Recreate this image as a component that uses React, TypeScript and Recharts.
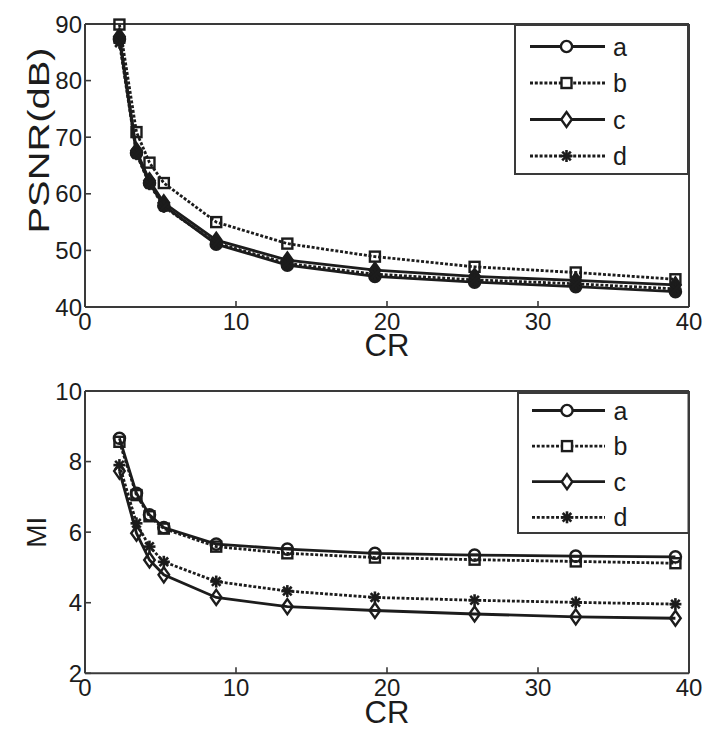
import React from 'react';
import { LineChart, Line, XAxis, YAxis, Legend, Label } from 'recharts';

// ---------- data ----------
const crValues = [2.28, 3.41, 4.27, 5.22, 8.69, 13.4, 19.2, 25.8, 32.5, 39.1];

const psnrA = [87.3, 67.2, 61.9, 57.9, 51.1, 47.4, 45.4, 44.4, 43.6, 42.7];
const psnrB = [89.9, 70.9, 65.5, 61.9, 55.0, 51.2, 48.9, 47.1, 46.1, 44.9];
const psnrC = [87.8, 67.6, 62.3, 58.4, 51.8, 48.3, 46.5, 45.4, 44.7, 43.9];
const psnrD = [86.7, 67.0, 61.7, 57.7, 51.3, 47.7, 45.8, 44.8, 44.1, 43.2];

const miA = [8.66, 7.1, 6.49, 6.13, 5.66, 5.52, 5.4, 5.35, 5.32, 5.3];
const miB = [8.56, 7.05, 6.45, 6.1, 5.59, 5.4, 5.28, 5.22, 5.17, 5.12];
const miC = [7.73, 5.97, 5.21, 4.79, 4.15, 3.89, 3.78, 3.68, 3.6, 3.56];
const miD = [7.9, 6.25, 5.59, 5.16, 4.6, 4.33, 4.15, 4.07, 4.01, 3.96];

const seriesNames = ['a', 'b', 'c', 'd'];
const xTicks = [0, 10, 20, 30, 40];
const psnrTicks = [40, 50, 60, 70, 80, 90];
const miTicks = [2, 4, 6, 8, 10];

const psnrData = crValues.map((cr, i) => ({ cr, a: psnrA[i], b: psnrB[i], c: psnrC[i], d: psnrD[i] }));
const miData = crValues.map((cr, i) => ({ cr, a: miA[i], b: miB[i], c: miC[i], d: miD[i] }));

// ---------- styles ----------
const INK = '#1c1c1c';
const AXIS = '#3a3a3a';
const FONT = '"Liberation Sans", Arial, Helvetica, sans-serif';
const DASH = '3 1.8';
const LW = 2.8;

const STYLE: Record<string, { shape: string; dash?: string }> = {
  a: { shape: 'circle' },
  b: { shape: 'square', dash: DASH },
  c: { shape: 'diamond' },
  d: { shape: 'star', dash: DASH },
};

function Marker({ cx, cy, shape, fill }: any) {
  if (cx == null || cy == null) return null;
  const sw = 2.4;
  switch (shape) {
    case 'circle':
      return <circle cx={cx} cy={cy} r={5.6} fill={fill} stroke={INK} strokeWidth={sw} />;
    case 'square':
      return <rect x={cx - 5} y={cy - 5} width={10} height={10} fill={fill} stroke={INK} strokeWidth={sw} />;
    case 'diamond':
      return (
        <polygon
          points={`${cx},${cy - 7.5} ${cx + 5.3},${cy} ${cx},${cy + 7.5} ${cx - 5.3},${cy}`}
          fill={fill}
          stroke={INK}
          strokeWidth={sw}
        />
      );
    default:
      return (
        <g stroke={INK} strokeWidth={2.6}>
          <line x1={cx - 6} y1={cy} x2={cx + 6} y2={cy} />
          <line x1={cx} y1={cy - 6} x2={cx} y2={cy + 6} />
          <line x1={cx - 4.3} y1={cy - 4.3} x2={cx + 4.3} y2={cy + 4.3} />
          <line x1={cx - 4.3} y1={cy + 4.3} x2={cx + 4.3} y2={cy - 4.3} />
        </g>
      );
  }
}

// ---------- ticks ----------
const tickText = { fontFamily: FONT, fontSize: 24, fill: INK } as const;

const BottomTick = (p: any) => (
  <g>
    <line x1={p.x} x2={p.x} y1={p.y} y2={p.y - 6} stroke={AXIS} strokeWidth={1.6} />
    <text x={p.x} y={p.y + 23} textAnchor="middle" {...tickText}>
      {p.payload.value}
    </text>
  </g>
);
const TopTick = (p: any) => (
  <line x1={p.x} x2={p.x} y1={p.y} y2={p.y + 6} stroke={AXIS} strokeWidth={1.6} />
);
const LeftTick = (p: any) => (
  <g>
    <line x1={p.x} x2={p.x + 6} y1={p.y} y2={p.y} stroke={AXIS} strokeWidth={1.6} />
    <text x={p.x - 3} y={p.y} dy="0.36em" textAnchor="end" {...tickText}>
      {p.payload.value}
    </text>
  </g>
);
const RightTick = (p: any) => (
  <line x1={p.x} x2={p.x - 6} y1={p.y} y2={p.y} stroke={AXIS} strokeWidth={1.6} />
);

// ---------- legend ----------
function LegendBox({ payload, w, h, y0, step, lx1, lx2, mx, tx }: any) {
  return (
    <svg width={w} height={h} style={{ display: 'block' }}>
      <rect x={1} y={1} width={w - 2} height={h - 2} fill="#fff" stroke={AXIS} strokeWidth={2} />
      {(payload || []).map((entry: any, i: number) => {
        const key = String(entry.dataKey);
        const st = STYLE[key];
        const y = y0 + i * step;
        return (
          <g key={key}>
            <line x1={lx1} x2={lx2} y1={y} y2={y} stroke={INK} strokeWidth={LW} strokeDasharray={st.dash} />
            <Marker cx={mx} cy={y} shape={st.shape} fill="#fff" />
            <text x={tx} y={y} dy="0.36em" fontFamily={FONT} fontSize={25} fill={INK}>
              {entry.value}
            </text>
          </g>
        );
      })}
    </svg>
  );
}

// ---------- panel ----------
function Panel({ data, height, margin, yDomain, yTicks, yLabel, legend, filledTop, crOffset }: any) {
  return (
    <LineChart width={723} height={height} data={data} margin={margin}>
      <XAxis
        dataKey="cr"
        type="number"
        domain={[0, 40]}
        ticks={xTicks}
        interval={0}
        height={1}
        tickSize={0}
        tickMargin={0}
        tickLine={false}
        axisLine={{ stroke: AXIS, strokeWidth: 2 }}
        tick={BottomTick}
      >
        <Label value="CR" position="bottom" offset={crOffset} fontSize={31} fontFamily={FONT} fill={INK} />
      </XAxis>
      <XAxis
        xAxisId="top"
        orientation="top"
        type="number"
        domain={[0, 40]}
        ticks={xTicks}
        interval={0}
        height={1}
        tickSize={0}
        tickMargin={0}
        tickLine={false}
        axisLine={{ stroke: AXIS, strokeWidth: 2 }}
        tick={TopTick}
      />
      <YAxis
        type="number"
        domain={yDomain}
        ticks={yTicks}
        interval={0}
        width={1}
        tickSize={0}
        tickMargin={0}
        tickLine={false}
        axisLine={{ stroke: AXIS, strokeWidth: 2 }}
        tick={LeftTick}
      >
        <Label
          content={(props: any) => {
            const vb = props.viewBox || {};
            const cx = vb.x + vb.width - yLabel.dx;
            const cy = vb.y + vb.height / 2 + yLabel.dy;
            return (
              <text
                x={cx}
                y={cy}
                transform={`rotate(-90 ${cx} ${cy})`}
                textAnchor="middle"
                dominantBaseline="central"
                fontFamily={FONT}
                fontSize={yLabel.size}
                fill={INK}
                textLength={yLabel.len}
                lengthAdjust={yLabel.len ? 'spacingAndGlyphs' : undefined}
              >
                {yLabel.text}
              </text>
            );
          }}
        />
      </YAxis>
      <YAxis
        yAxisId="right"
        orientation="right"
        type="number"
        domain={yDomain}
        ticks={yTicks}
        interval={0}
        width={1}
        tickSize={0}
        tickMargin={0}
        tickLine={false}
        axisLine={{ stroke: AXIS, strokeWidth: 2 }}
        tick={RightTick}
      />
      <Legend
        layout="vertical"
        align="center"
        verticalAlign="middle"
        wrapperStyle={{ position: 'absolute', left: legend.left, top: legend.top, width: legend.w, height: legend.h }}
        content={(props: any) => <LegendBox payload={props.payload} {...legend} />}
      />
      {seriesNames.map((k) => {
        const st = STYLE[k];
        const fill = filledTop && k !== 'b' ? INK : 'none';
        return (
          <Line
            key={k}
            dataKey={k}
            name={k}
            type="linear"
            stroke={INK}
            strokeWidth={LW}
            strokeDasharray={st.dash}
            isAnimationActive={false}
            activeDot={false}
            dot={(p: any) => <Marker key={`${k}-${p.index}`} cx={p.cx} cy={p.cy} shape={st.shape} fill={fill} />}
          />
        );
      })}
    </LineChart>
  );
}

export default function App() {
  return (
    <div style={{ position: 'absolute', left: 0, top: 0, width: 723, height: 747, background: '#fff' }}>
      <div style={{ position: 'absolute', left: 0, top: 360 }}>
        <Panel
          data={miData}
          height={387}
          margin={{ top: 30, right: 33, bottom: 72.7, left: 84 }}
          yDomain={[2, 10]}
          yTicks={miTicks}
          yLabel={{ text: 'MI', dx: 48, dy: 0, size: 28 }}
          legend={{ left: 516.5, top: 391.5 - 360, w: 172.5, h: 142, y0: 18.5, step: 35.6, lx1: 15, lx2: 88, mx: 50, tx: 96.5 }}
          filledTop={false}
          crOffset={27}
        />
      </div>
      <div style={{ position: 'absolute', left: 0, top: 0 }}>
        <Panel
          data={psnrData}
          height={372}
          margin={{ top: 23, right: 33, bottom: 64, left: 84 }}
          yDomain={[40, 90]}
          yTicks={psnrTicks}
          yLabel={{ text: 'PSNR(dB)', dx: 47, dy: -25, size: 30, len: 186 }}
          legend={{ left: 514, top: 24, w: 175, h: 151, y0: 22.5, step: 36.5, lx1: 16, lx2: 91, mx: 52.5, tx: 99 }}
          filledTop={true}
          crOffset={26}
        />
      </div>
    </div>
  );
}
